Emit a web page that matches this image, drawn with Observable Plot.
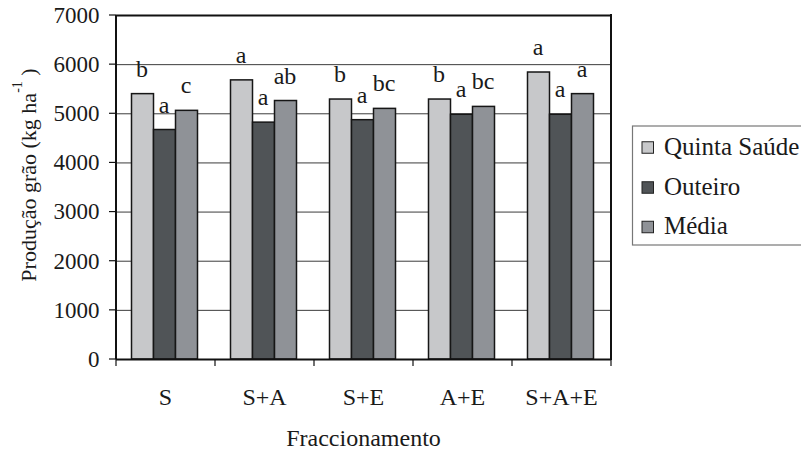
<!DOCTYPE html>
<html>
<head>
<meta charset="utf-8">
<script src="https://cdn.jsdelivr.net/npm/d3@7"></script>
<script src="https://cdn.jsdelivr.net/npm/@observablehq/plot@0.6"></script>
<style>
  html, body { margin: 0; padding: 0; background: #fff; }
  #chart { position: relative; width: 801px; height: 452px; overflow: hidden; }
  #chart svg { position: absolute; left: 0; top: 0; }
</style>
</head>
<body>
<div id="chart"></div>
<script>
// Grain yield by nitrogen fractionation scheme, per site and mean
const categories = ["S", "S+A", "S+E", "A+E", "S+A+E"];
const series = ["Quinta Saúde", "Outeiro", "Média"];
const quintaSaude = [5400, 5680, 5290, 5290, 5840];
const outeiro = [4670, 4820, 4870, 4980, 4980];
const media = [5060, 5260, 5100, 5140, 5400];
const quintaLetters = ["b", "a", "b", "b", "a"];
const outeiroLetters = ["a", "a", "a", "a", "a"];
const mediaLetters = ["c", "ab", "bc", "bc", "a"];
const yTicks = [0, 1000, 2000, 3000, 4000, 5000, 6000, 7000];
const colors = ["#c7c8ca", "#505457", "#8f9297"];

const values = [quintaSaude, outeiro, media];
const letters = [quintaLetters, outeiroLetters, mediaLetters];
const data = categories.flatMap((c, i) =>
  series.map((s, j) => ({ category: c, series: s, value: values[j][i], letter: letters[j][i] }))
);

const ink = "#1a1a1a";
const serif = "Liberation Serif";

// Bars, grid and frame lines
const chart = Plot.plot({
  width: 801,
  height: 452,
  marginTop: 15,
  marginBottom: 93,
  marginLeft: 115.5,
  marginRight: 189,
  style: { background: "transparent", overflow: "visible" },
  fx: { domain: categories, padding: 0, axis: null },
  x: { domain: series, padding: 0, insetLeft: 15.5, insetRight: 16.8, axis: null },
  y: { domain: [0, 7000], axis: null },
  color: { domain: series, range: colors },
  marks: [
    Plot.gridY(yTicks.slice(1, -1), { stroke: "#3c3c3c", strokeOpacity: 1, strokeWidth: 1 }),
    Plot.barY(data, { fx: "category", x: "series", y: "value", fill: "series", stroke: "#161616", strokeWidth: 1.5 }),
    Plot.ruleY([0], { stroke: "#111", strokeWidth: 2 }),
    Plot.ruleY([7000], { stroke: "#111", strokeWidth: 2 })
  ]
});

const root = document.getElementById("chart");
root.appendChild(chart);

// Scales shared with the labelling layer
const fx = chart.scale("fx");
const x = chart.scale("x");
const y = chart.scale("y");
const left = fx.apply(categories[0]);
const right = fx.apply(categories[categories.length - 1]) + fx.bandwidth;
const yTop = y.apply(7000);
const yBottom = y.apply(0);
const barCenter = (d) => fx.apply(d.category) - left + x.apply(d.series) + x.bandwidth / 2;

// Labelling layer: axes, letters, titles and legend
const layer = d3.select(root).append("svg")
  .attr("width", 801).attr("height", 452)
  .attr("font-family", serif)
  .attr("fill", ink);

const label = (sel) => sel.attr("font-family", serif).attr("fill", ink);

const lines = layer.append("g").attr("stroke", "#111");
lines.append("line").attr("x1", left).attr("x2", left).attr("y1", yTop).attr("y2", yBottom).attr("stroke-width", 2);
lines.append("line").attr("x1", right).attr("x2", right).attr("y1", yTop - 1).attr("y2", yBottom + 1).attr("stroke-width", 2);
lines.selectAll(null).data(categories.map((c) => fx.apply(c)).concat([right])).join("line")
  .attr("x1", (d) => d).attr("x2", (d) => d)
  .attr("y1", yBottom).attr("y2", yBottom + 7)
  .attr("stroke-width", 1.2);
lines.selectAll(null).data(yTicks).join("line")
  .attr("x1", left - 7).attr("x2", left)
  .attr("y1", (d) => y.apply(d)).attr("y2", (d) => y.apply(d))
  .attr("stroke-width", 1.2);

// y tick labels
layer.append("g").selectAll(null).data(yTicks).join("text")
  .call(label)
  .attr("font-size", 23).attr("text-anchor", "end")
  .attr("x", left - 16.5)
  .attr("y", (d) => y.apply(d))
  .attr("dy", "0.34em")
  .text((d) => String(d));

// category labels
layer.append("g").selectAll(null).data(categories).join("text")
  .call(label)
  .attr("font-size", 24).attr("text-anchor", "middle")
  .attr("x", (c) => fx.apply(c) + fx.bandwidth / 2)
  .attr("y", 405)
  .text((c) => c);

// significance letters above the bars
layer.append("g").selectAll(null).data(data).join("text")
  .call(label)
  .attr("font-size", 24).attr("text-anchor", "middle")
  .attr("x", barCenter)
  .attr("y", (d) => y.apply(d.value) - 17)
  .text((d) => d.letter);

// y title with superscript unit
const yTitle = layer.append("g").selectAll(null).data(["Produção grão (kg ha"]).join("text")
  .call(label)
  .attr("transform", "translate(36,175) rotate(-90)")
  .attr("text-anchor", "middle")
  .attr("font-size", 22);
yTitle.append("tspan").call(label).text((d) => d);
yTitle.append("tspan").call(label).attr("dy", -14).attr("font-size", 14).text("-1");
yTitle.append("tspan").call(label).attr("dy", 14).text(" )");

// x title
layer.append("g").selectAll(null).data(["Fraccionamento"]).join("text")
  .call(label)
  .attr("x", (left + right) / 2)
  .attr("y", 446)
  .attr("text-anchor", "middle")
  .attr("font-size", 24)
  .text((d) => d);

// legend
const legend = layer.append("g");
legend.append("rect")
  .attr("x", 632.5).attr("y", 126).attr("width", 200).attr("height", 119)
  .attr("fill", "#fff").attr("stroke", "#777").attr("stroke-width", 1.2);
const rowCenters = [147.5, 187.5, 227];
legend.selectAll(null).data(series).join("rect")
  .attr("x", 642).attr("y", (s, i) => rowCenters[i] - 5.75)
  .attr("width", 11.5).attr("height", 11.5)
  .attr("fill", (s, i) => colors[i]).attr("stroke", "#222").attr("stroke-width", 1);
legend.selectAll(null).data(series).join("text")
  .call(label)
  .attr("font-size", 25).attr("text-anchor", "start")
  .attr("x", 664).attr("y", (s, i) => rowCenters[i] + 7)
  .text((s) => s);
</script>
</body>
</html>
